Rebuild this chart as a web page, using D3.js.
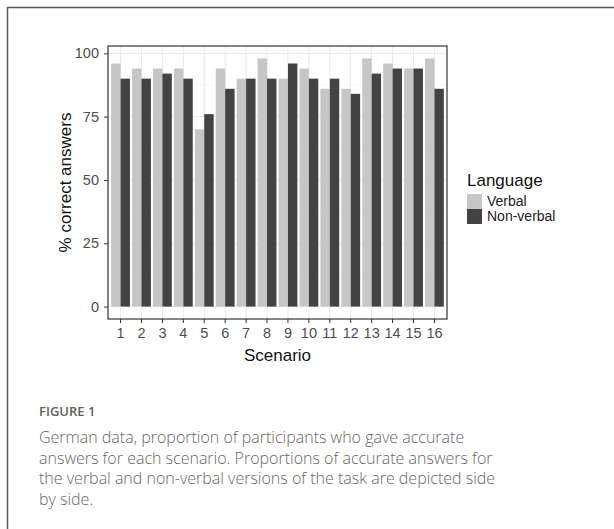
<!DOCTYPE html>
<html>
<head>
<meta charset="utf-8">
<script src="https://cdn.jsdelivr.net/npm/d3@7"></script>
<style>
  body { margin: 0; background: #fff; }
  svg { display: block; }
</style>
</head>
<body>
<div id="chart"></div>
<script>
// data
const scenarios = ["1","2","3","4","5","6","7","8","9","10","11","12","13","14","15","16"];
const languages = ["Verbal", "Non-verbal"];
const verbal    = [96, 94, 94, 94, 70, 94, 90, 98, 90, 94, 86, 86, 98, 96, 94, 98];
const nonVerbal = [90, 90, 92, 90, 76, 86, 90, 90, 96, 90, 90, 84, 92, 94, 94, 86];
const yTicks = [0, 25, 50, 75, 100];
const yMinor = [12.5, 37.5, 62.5, 87.5];
const fillColors = ["#c6c6c6", "#434343"];
const captionHead = "FIGURE 1";
const captionLines = [
  "German data, proportion of participants who gave accurate",
  "answers for each scenario. Proportions of accurate answers for",
  "the verbal and non-verbal versions of the task are depicted side",
  "by side."
];

const W = 614, H = 529;
const panel = {left: 108, right: 447, top: 46, bottom: 319};

const rows = scenarios.map(function(s, i) {
  return {scenario: s, values: [verbal[i], nonVerbal[i]]};
});

const svg = d3.select("#chart").append("svg")
  .attr("width", W)
  .attr("height", H);

// outer frame of the figure box
svg.append("rect")
  .attr("x", 7.5).attr("y", 7.5)
  .attr("width", 700).attr("height", 700)
  .attr("fill", "none")
  .attr("stroke", "#5a5a5a")
  .attr("stroke-width", 1.5);

// ggplot style expansion: 5% on y, 0.6 units on the discrete x
const yMax = d3.max(verbal.concat(nonVerbal));
const pad = yMax * 0.05;
const y = d3.scaleLinear()
  .domain([-pad, yMax + pad])
  .range([panel.bottom, panel.top]);

const x = d3.scaleBand()
  .domain(scenarios)
  .range([panel.left, panel.right])
  .paddingInner(0.1)
  .paddingOuter(0.15);

const xSub = d3.scaleBand()
  .domain(languages)
  .range([0, x.bandwidth()]);

const g = svg.append("g");

// grid
g.selectAll("line.minor").data(yMinor).enter().append("line")
  .attr("x1", panel.left).attr("x2", panel.right)
  .attr("y1", d => y(d)).attr("y2", d => y(d))
  .attr("stroke", "#f2f2f2").attr("stroke-width", 0.6);
g.selectAll("line.major").data(yTicks).enter().append("line")
  .attr("x1", panel.left).attr("x2", panel.right)
  .attr("y1", d => y(d)).attr("y2", d => y(d))
  .attr("stroke", "#e8e8e8").attr("stroke-width", 1);
g.selectAll("line.vgrid").data(scenarios).enter().append("line")
  .attr("x1", d => x(d) + x.bandwidth() / 2).attr("x2", d => x(d) + x.bandwidth() / 2)
  .attr("y1", panel.top).attr("y2", panel.bottom)
  .attr("stroke", "#e8e8e8").attr("stroke-width", 1);

// bars
const groups = g.selectAll("g.scn").data(rows).enter().append("g")
  .attr("transform", d => `translate(${x(d.scenario)},0)`);

groups.selectAll("rect")
  .data(d => d.values.map((v, i) => ({lang: languages[i], v: v})))
  .enter().append("rect")
  .attr("x", d => xSub(d.lang))
  .attr("width", xSub.bandwidth())
  .attr("y", d => y(d.v))
  .attr("height", d => y(0) - y(d.v))
  .attr("fill", (d, i) => fillColors[i]);

// panel border
g.append("rect")
  .attr("x", panel.left).attr("y", panel.top)
  .attr("width", panel.right - panel.left)
  .attr("height", panel.bottom - panel.top)
  .attr("fill", "none")
  .attr("stroke", "#333")
  .attr("stroke-width", 1.2);

// axes
const xAxis = svg.append("g")
  .attr("transform", `translate(0,${panel.bottom})`)
  .call(d3.axisBottom(x).tickSizeOuter(0).tickSize(4).tickPadding(5));
const yAxis = svg.append("g")
  .attr("transform", `translate(${panel.left},0)`)
  .call(d3.axisLeft(y).tickValues(yTicks).tickSizeOuter(0).tickSize(4).tickPadding(5));

[xAxis, yAxis].forEach(function(a) {
  a.select(".domain").remove();
  a.selectAll(".tick line").attr("stroke", "#333");
  a.selectAll(".tick text")
    .attr("fill", "#4d4d4d")
    .style("font-family", "'Liberation Sans', Arial, sans-serif")
    .style("font-size", "14.5px");
});

svg.append("text")
  .attr("x", (panel.left + panel.right) / 2)
  .attr("y", 361)
  .attr("text-anchor", "middle")
  .style("font-family", "'Liberation Sans', Arial, sans-serif")
  .style("font-size", "17px")
  .attr("fill", "#111")
  .text("Scenario");

svg.append("text")
  .attr("transform", `translate(71,${(panel.top + panel.bottom) / 2}) rotate(-90)`)
  .attr("text-anchor", "middle")
  .style("font-family", "'Liberation Sans', Arial, sans-serif")
  .style("font-size", "17px")
  .attr("fill", "#111")
  .text("% correct answers");

// legend
const legend = svg.append("g").attr("transform", "translate(467,186)");
legend.append("text")
  .attr("x", 0).attr("y", 0)
  .style("font-family", "'Liberation Sans', Arial, sans-serif")
  .style("font-size", "17px")
  .attr("fill", "#111")
  .text("Language");
const items = legend.selectAll("g.item").data(languages).enter().append("g")
  .attr("transform", (d, i) => `translate(0,${8 + i * 15})`);
items.append("rect")
  .attr("width", 15).attr("height", 15)
  .attr("fill", (d, i) => fillColors[i]);
items.append("text")
  .attr("x", 20).attr("y", 12)
  .style("font-family", "'Liberation Sans', Arial, sans-serif")
  .style("font-size", "14px")
  .attr("fill", "#222")
  .text(d => d);

// caption
svg.append("text")
  .attr("x", 39).attr("y", 416)
  .style("font-family", "'Open Sans', sans-serif")
  .style("font-size", "13px")
  .style("font-weight", 600)
  .attr("fill", "#5f5f5f")
  .text(captionHead);

svg.selectAll("text.cap").data(captionLines).enter().append("text")
  .attr("class", "cap")
  .attr("x", 39)
  .attr("y", (d, i) => 443 + i * 20.7)
  .style("font-family", "'Open Sans', sans-serif")
  .style("font-size", "16px")
  .style("font-weight", 300)
  .attr("fill", "#666")
  .text(d => d);
</script>
</body>
</html>
